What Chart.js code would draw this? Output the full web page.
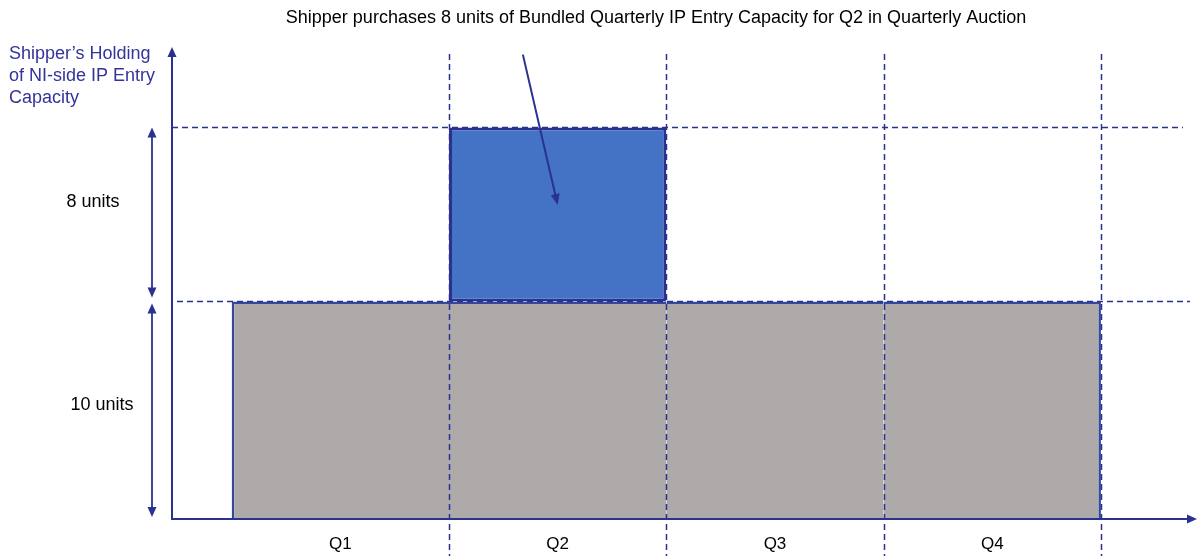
<!DOCTYPE html>
<html><head><meta charset="utf-8">
<script src="https://cdn.jsdelivr.net/npm/chart.js@4"></script>
<style>html,body{margin:0;padding:0;background:#fff;}#wrap{position:relative;width:1201px;height:556px;}canvas{display:block;}</style>
</head><body><div id="wrap"><canvas id="c" width="1201" height="556" style="width:1201px;height:556px;"></canvas></div>
<script>
// ---- data ----
const quarters = ["Q1", "Q2", "Q3", "Q4"];
const existingHolding = [10, 10, 10, 10];
const purchasedQuarter = "Q2";
const purchasedUnits = 8;
const chartTitle = "Shipper purchases 8 units of Bundled Quarterly IP Entry Capacity for Q2 in Quarterly Auction";
const yAxisTitle = ["Shipper\u2019s Holding", "of NI-side IP Entry", "Capacity"];
const existingLabel = "10 units";
const purchasedLabel = "8 units";

// ---- styling ----
const NAVY = "#2b3190";
const GRAY = "#aeaaaa";
const BLUE = "#4472c4";
const FONT = "'Liberation Sans', Arial, sans-serif";

const baseData = existingHolding.map((v, i) => ({ x: i + 1, y: v }));
const buyData = [{ x: quarters.indexOf(purchasedQuarter) + 1, y: purchasedUnits }];
const baseTop = existingHolding[0];
const buyTop = baseTop + purchasedUnits;

function head(ctx, x1, y1, x2, y2, len, wid) {
  const a = Math.atan2(y2 - y1, x2 - x1);
  ctx.save();
  ctx.translate(x2, y2); ctx.rotate(a);
  ctx.beginPath(); ctx.moveTo(0, 0); ctx.lineTo(-len, wid / 2); ctx.lineTo(-len, -wid / 2); ctx.closePath();
  ctx.fill();
  ctx.restore();
}
function arrowLine(ctx, x1, y1, x2, y2, both, len, wid) {
  len = len || 10; wid = wid || 9;
  const d = Math.hypot(x2 - x1, y2 - y1), ux = (x2 - x1) / d, uy = (y2 - y1) / d;
  const sx = both ? x1 + ux * (len - 1) : x1, sy = both ? y1 + uy * (len - 1) : y1;
  ctx.beginPath(); ctx.moveTo(sx, sy); ctx.lineTo(x2 - ux * (len - 1), y2 - uy * (len - 1)); ctx.stroke();
  head(ctx, x1, y1, x2, y2, len, wid);
  if (both) head(ctx, x2, y2, x1, y1, len, wid);
}

const overlay = {
  id: "overlay",
  afterDatasetsDraw(chart) {
    const { ctx, chartArea: ca, scales: { x, y } } = chart;
    ctx.save();
    ctx.strokeStyle = NAVY; ctx.fillStyle = NAVY;
    // dashed guide lines
    ctx.setLineDash([6, 4]); ctx.lineWidth = 1.5;
    for (let i = 0; i < quarters.length; i++) {
      const px = Math.round(x.getPixelForValue(i + 1.5)) + 0.5;
      ctx.beginPath(); ctx.moveTo(px, ca.top + 7); ctx.lineTo(px, chart.height); ctx.stroke();
    }
    let py = Math.round(y.getPixelForValue(buyTop)) + 0.5;
    ctx.beginPath(); ctx.moveTo(ca.left, py); ctx.lineTo(ca.right - 14, py); ctx.stroke();
    py = Math.round(y.getPixelForValue(baseTop)) + 0.5;
    ctx.beginPath(); ctx.moveTo(ca.left + 5, py); ctx.lineTo(ca.right - 7, py); ctx.stroke();
    ctx.setLineDash([]);
    // axes with arrows
    ctx.lineWidth = 2;
    arrowLine(ctx, ca.left, ca.bottom, ca.left, ca.top, false, 10, 9);
    arrowLine(ctx, ca.left - 1, ca.bottom, ca.right, ca.bottom, false, 10, 9);
    // brackets
    ctx.lineWidth = 1.8;
    const bx = ca.left - 20;
    arrowLine(ctx, bx, y.getPixelForValue(buyTop), bx, y.getPixelForValue(baseTop) - 4, true, 10, 9);
    arrowLine(ctx, bx, y.getPixelForValue(baseTop) + 2, bx, y.getPixelForValue(0) - 2, true, 10, 9);
    // callout arrow pointing at purchased bar
    ctx.lineWidth = 2;
    const q = buyData[0].x;
    arrowLine(ctx, x.getPixelForValue(q - 0.16), y.getPixelForValue(buyTop + 3.35),
      x.getPixelForValue(q), y.getPixelForValue(baseTop + purchasedUnits * 0.555), false, 11, 9);
    // texts
    ctx.textBaseline = "middle";
    ctx.fillStyle = "#000";
    ctx.font = "18px " + FONT;
    ctx.textAlign = "center";
    ctx.fillText(chartTitle, 656, 18);
    ctx.fillText(purchasedLabel, 93, 202);
    ctx.fillText(existingLabel, 102, 405);
    ctx.fillStyle = "#33339a";
    ctx.textAlign = "left";
    yAxisTitle.forEach((t, i) => ctx.fillText(t, 9, 54 + i * 22));
    ctx.restore();
  }
};

new Chart(document.getElementById("c"), {
  type: "bar",
  data: {
    datasets: [
      {
        label: "Existing holding",
        data: baseData,
        backgroundColor: GRAY,
        borderColor: "#34489c",
        borderSkipped: false,
        borderWidth: (c) => {
          const n = existingHolding.length - 1;
          return { top: 2.5, bottom: 0, left: c.dataIndex === 0 ? 2.5 : 0, right: c.dataIndex === n ? 2.5 : 0 };
        },
        barPercentage: 1, categoryPercentage: 1, inflateAmount: 0
      },
      {
        label: "Purchased",
        data: buyData,
        backgroundColor: BLUE,
        borderColor: NAVY,
        borderSkipped: false,
        borderWidth: 3,
        barPercentage: 1, categoryPercentage: 1, inflateAmount: 0
      }
    ]
  },
  options: {
    responsive: false,
    maintainAspectRatio: false,
    animation: false,
    devicePixelRatio: 1,
    layout: { padding: { left: 172, right: 4, top: 47, bottom: 0 } },
    plugins: { legend: { display: false }, tooltip: { enabled: false }, title: { display: false } },
    scales: {
      x: {
        type: "linear", stacked: true, offset: false, min: 0.2253, max: 4.942,
        grid: { display: false, drawTicks: false, offset: false }, border: { display: false },
        afterBuildTicks: (s) => { s.ticks = quarters.map((q, i) => ({ value: i + 1 })); },
        afterFit: (s) => { s.height = 37; },
        ticks: { autoSkip: false, maxRotation: 0, padding: 15, color: "#000",
          font: { family: FONT, size: 17 },
          callback: (v) => quarters[Math.round(v) - 1] || "" }
      },
      y: { display: false, stacked: true, min: 0, max: 21.7 }
    }
  },
  plugins: [overlay]
});
</script>
</body></html>
